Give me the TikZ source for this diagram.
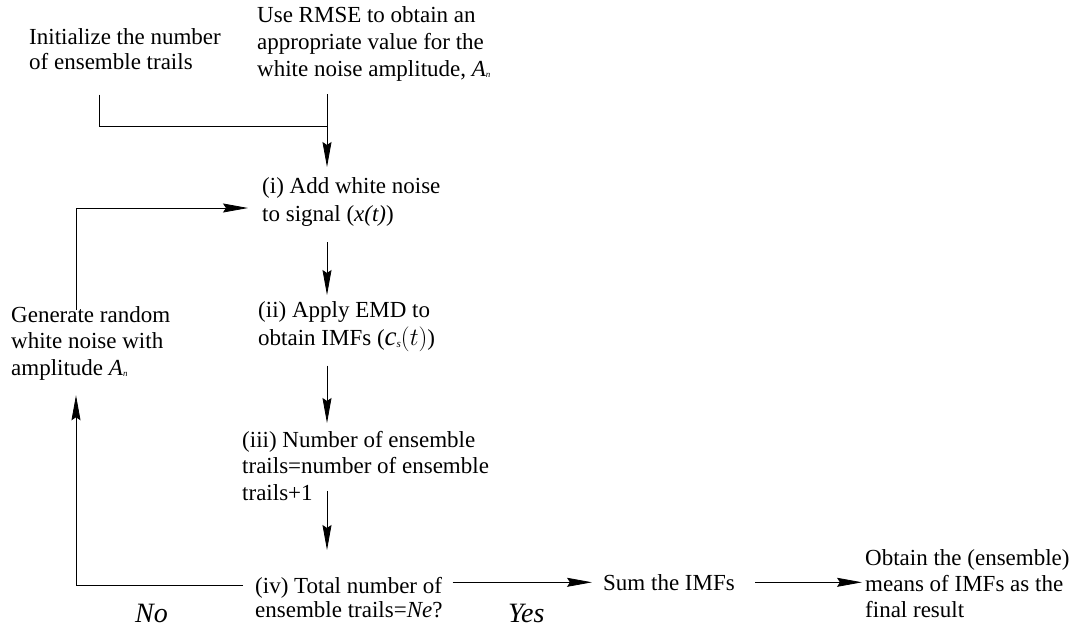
\documentclass[tikz,border=0pt]{standalone}
\usepackage{fontspec}
\setmainfont{Liberation Serif}
\usetikzlibrary{arrows.meta}
\tikzstyle{stage}=[anchor=north west, align=left, inner sep=0, font=\fontsize{23}{27}\selectfont]
\tikzstyle{answer}=[anchor=base west, inner sep=0, font=\fontsize{28}{28}\selectfont\itshape]
\tikzstyle{link}=[line width=0.8pt]
\tikzstyle{flow}=[line width=0.8pt, -{Stealth[length=25pt, width=9pt, inset=3pt]}]
\newcommand{\ampl}{\textit{A}\raisebox{-1.5pt}{\fontsize{9}{9}\selectfont\textit{n}}}

\begin{document}
\begin{tikzpicture}[x=1pt, y=-1pt]
    \useasboundingbox (0, 0) rectangle (1089, 630);

    \node[stage, font=\fontsize{23}{25}\selectfont] (init) at (29, 28) {Initialize the number\\of ensemble trails};
    \node[stage] (rmse) at (257, 6) {Use RMSE to obtain an\\appropriate value for the\\white noise amplitude, \ampl};
    \node[stage, font=\fontsize{23}{28}\selectfont] (addnoise) at (262, 177) {(i) Add white noise\\to signal (\textit{x(t)})};
    \node[stage, font=\fontsize{23}{26.5}\selectfont] (gen) at (11, 306) {Generate random\\white noise with\\amplitude \ampl};
    \node[stage, font=\fontsize{23}{28}\selectfont] (emd) at (258, 301) {(ii) Apply EMD to\\obtain IMFs ({\fontsize{27}{27}\selectfont\textit{c}}\raisebox{-2pt}{\fontsize{11}{11}\selectfont\textit{s}}{\fontsize{26}{26}\selectfont$(t)$})};
    \node[stage, font=\fontsize{23}{26.5}\selectfont] (count) at (242, 431) {(iii) Number of ensemble\\trails=number of ensemble\\trails+1};
    \node[stage, font=\fontsize{23}{24}\selectfont] (total) at (255, 577) {(iv) Total number of\\ensemble trails=\textit{Ne}?};
    \node[stage] (sum) at (603, 574) {Sum the IMFs};
    \node[stage, font=\fontsize{23}{26}\selectfont] (mean) at (865, 549) {Obtain the (ensemble)\\means of IMFs as the\\final result};
    \node[answer] (no) at (135, 622) {No};
    \node[answer] (yes) at (508, 622) {Yes};

    \coordinate (j1) at (99, 126);
    \coordinate (j2) at (327, 126);
    \coordinate (lower) at (76, 585);
    \coordinate (upper) at (76, 208);

    \draw[link, shorten <=25pt] (init.south -| j1) -- (j1) -- (j2);
    \draw[flow, shorten <=13pt, shorten >=10pt] (rmse.south -| j2) -- (addnoise.north -| j2);
    \draw[flow, shorten <=16pt, shorten >=6pt] (addnoise.south -| j2) -- (emd.north -| j2);
    \draw[flow, shorten <=14pt, shorten >=8pt] (emd.south -| j2) -- (count.north -| j2);
    \draw[flow, shorten <=-10pt, shorten >=27pt] (count.south -| j2) -- (total.north -| j2);
    \draw[flow, shorten <=10pt, shorten >=11pt] (total.east |- sum.west) -- (sum.west);
    \draw[flow, shorten <=20pt, shorten >=3pt] (sum.east) -- (mean.west |- sum.east);
    \draw[flow, shorten <=12pt, shorten >=15pt] (total.west |- lower) -- (lower) -- (lower |- gen.south);
    \draw[flow, shorten <=-4pt, shorten >=14pt] (upper |- gen.north) -- (upper) -- (addnoise.west |- upper);
\end{tikzpicture}
\end{document}
